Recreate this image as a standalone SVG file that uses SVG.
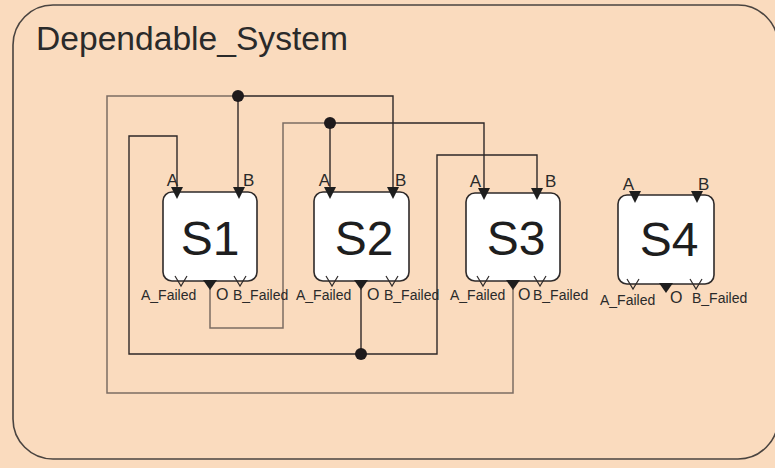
<svg xmlns="http://www.w3.org/2000/svg" width="775" height="468" viewBox="0 0 775 468">
<style>
.bg{fill:#fadbbe}
.frame{fill:#fadbbe;stroke:#4a4440;stroke-width:1.6}
.title{font-family:"Liberation Sans",Arial,sans-serif;font-size:34px;fill:#2a2a2a}
.box{fill:#ffffff;stroke:#2e2a2a;stroke-width:1.6}
.name{font-family:"Liberation Sans",Arial,sans-serif;font-size:48px;fill:#1e1e1e;text-anchor:middle}
.port{font-family:"Liberation Sans",Arial,sans-serif;font-size:17px;fill:#2a2a2a}
.out{font-family:"Liberation Sans",Arial,sans-serif;font-size:14px;fill:#2a2a2a}
.o{font-family:"Liberation Sans",Arial,sans-serif;font-size:16px;fill:#2a2a2a}
.tri{fill:#1e1e1e}
.v{fill:none;stroke:#2e2a2a;stroke-width:1.2}
.w{fill:none;stroke:#2e2828;stroke-width:1.4}
.wg{fill:none;stroke:#7c6d63;stroke-width:1.5}
.dot{fill:#1e1a1c}
</style>
<rect class="bg" x="0" y="0" width="775" height="468"/>
<rect class="frame" x="13" y="5" width="765" height="454" rx="40" ry="40"/>
<text class="title" x="36" y="50" textLength="312" lengthAdjust="spacingAndGlyphs">Dependable_System</text>

<g id="connectors">
  <path class="wg" d="M513,289 V393 H107 V96 H238"/>
  <path class="w" d="M238,96 V190"/>
  <path class="w" d="M238,96 H393 V190"/>
  <path class="wg" d="M210,289 V328 H283 V123 H330"/>
  <path class="w" d="M330,123 V190"/>
  <path class="w" d="M330,123 H484 V190"/>
  <path class="w" d="M361,289 V354"/>
  <path class="w" d="M361,354 H129 V136 H177 V190"/>
  <path class="w" d="M361,354 H437 V155 H537 V190"/>
  <circle class="dot" cx="238" cy="96" r="6"/>
  <circle class="dot" cx="330" cy="123" r="6"/>
  <circle class="dot" cx="361" cy="354" r="6"/>
</g>

<g id="S1">
  <rect class="box" x="163" y="192" width="94" height="89" rx="9"/>
  <text class="name" x="210" y="255">S1</text>
  <polygon class="tri" points="171,187 183,187 177,199"/>
  <polygon class="tri" points="233,187 245,187 239,199"/>
  <text class="port" x="178" y="186" text-anchor="end">A</text>
  <text class="port" x="243" y="186">B</text>
  <polygon class="tri" points="203,280 217,280 210,290"/>
  <path class="v" d="M175,276 L181,286 L187,276"/>
  <path class="v" d="M234,276 L240,286 L246,276"/>
  <text class="out" x="141" y="300">A_Failed</text>
  <text class="o" x="216" y="300">O</text>
  <text class="out" x="233" y="300">B_Failed</text>
</g>

<g id="S2">
  <rect class="box" x="314" y="192" width="95" height="89" rx="9"/>
  <text class="name" x="364" y="255">S2</text>
  <polygon class="tri" points="324,187 336,187 330,199"/>
  <polygon class="tri" points="387,187 399,187 393,199"/>
  <text class="port" x="330" y="186" text-anchor="end">A</text>
  <text class="port" x="395" y="186">B</text>
  <polygon class="tri" points="354,280 368,280 361,290"/>
  <path class="v" d="M326,276 L332,286 L338,276"/>
  <path class="v" d="M386,276 L392,286 L398,276"/>
  <text class="out" x="296" y="300">A_Failed</text>
  <text class="o" x="367" y="300">O</text>
  <text class="out" x="384" y="300">B_Failed</text>
</g>

<g id="S3">
  <rect class="box" x="466" y="193" width="94" height="88" rx="9"/>
  <text class="name" x="516" y="255">S3</text>
  <polygon class="tri" points="478,188 490,188 484,200"/>
  <polygon class="tri" points="531,188 543,188 537,200"/>
  <text class="port" x="481" y="187" text-anchor="end">A</text>
  <text class="port" x="545" y="187">B</text>
  <polygon class="tri" points="506,280 520,280 513,290"/>
  <path class="v" d="M477,276 L483,286 L489,276"/>
  <path class="v" d="M534,276 L540,286 L546,276"/>
  <text class="out" x="450" y="300">A_Failed</text>
  <text class="o" x="518" y="300">O</text>
  <text class="out" x="533" y="300">B_Failed</text>
</g>

<g id="S4">
  <rect class="box" x="618" y="195" width="96" height="89" rx="9"/>
  <text class="name" x="669" y="256">S4</text>
  <polygon class="tri" points="629,191 641,191 635,203"/>
  <polygon class="tri" points="691,191 703,191 697,203"/>
  <text class="port" x="634" y="190" text-anchor="end">A</text>
  <text class="port" x="698" y="190">B</text>
  <polygon class="tri" points="659,283 673,283 666,293"/>
  <path class="v" d="M627,279 L633,289 L639,279"/>
  <path class="v" d="M690,279 L696,289 L702,279"/>
  <text class="out" x="600" y="305">A_Failed</text>
  <text class="o" x="670" y="303">O</text>
  <text class="out" x="692" y="303">B_Failed</text>
</g>
</svg>
